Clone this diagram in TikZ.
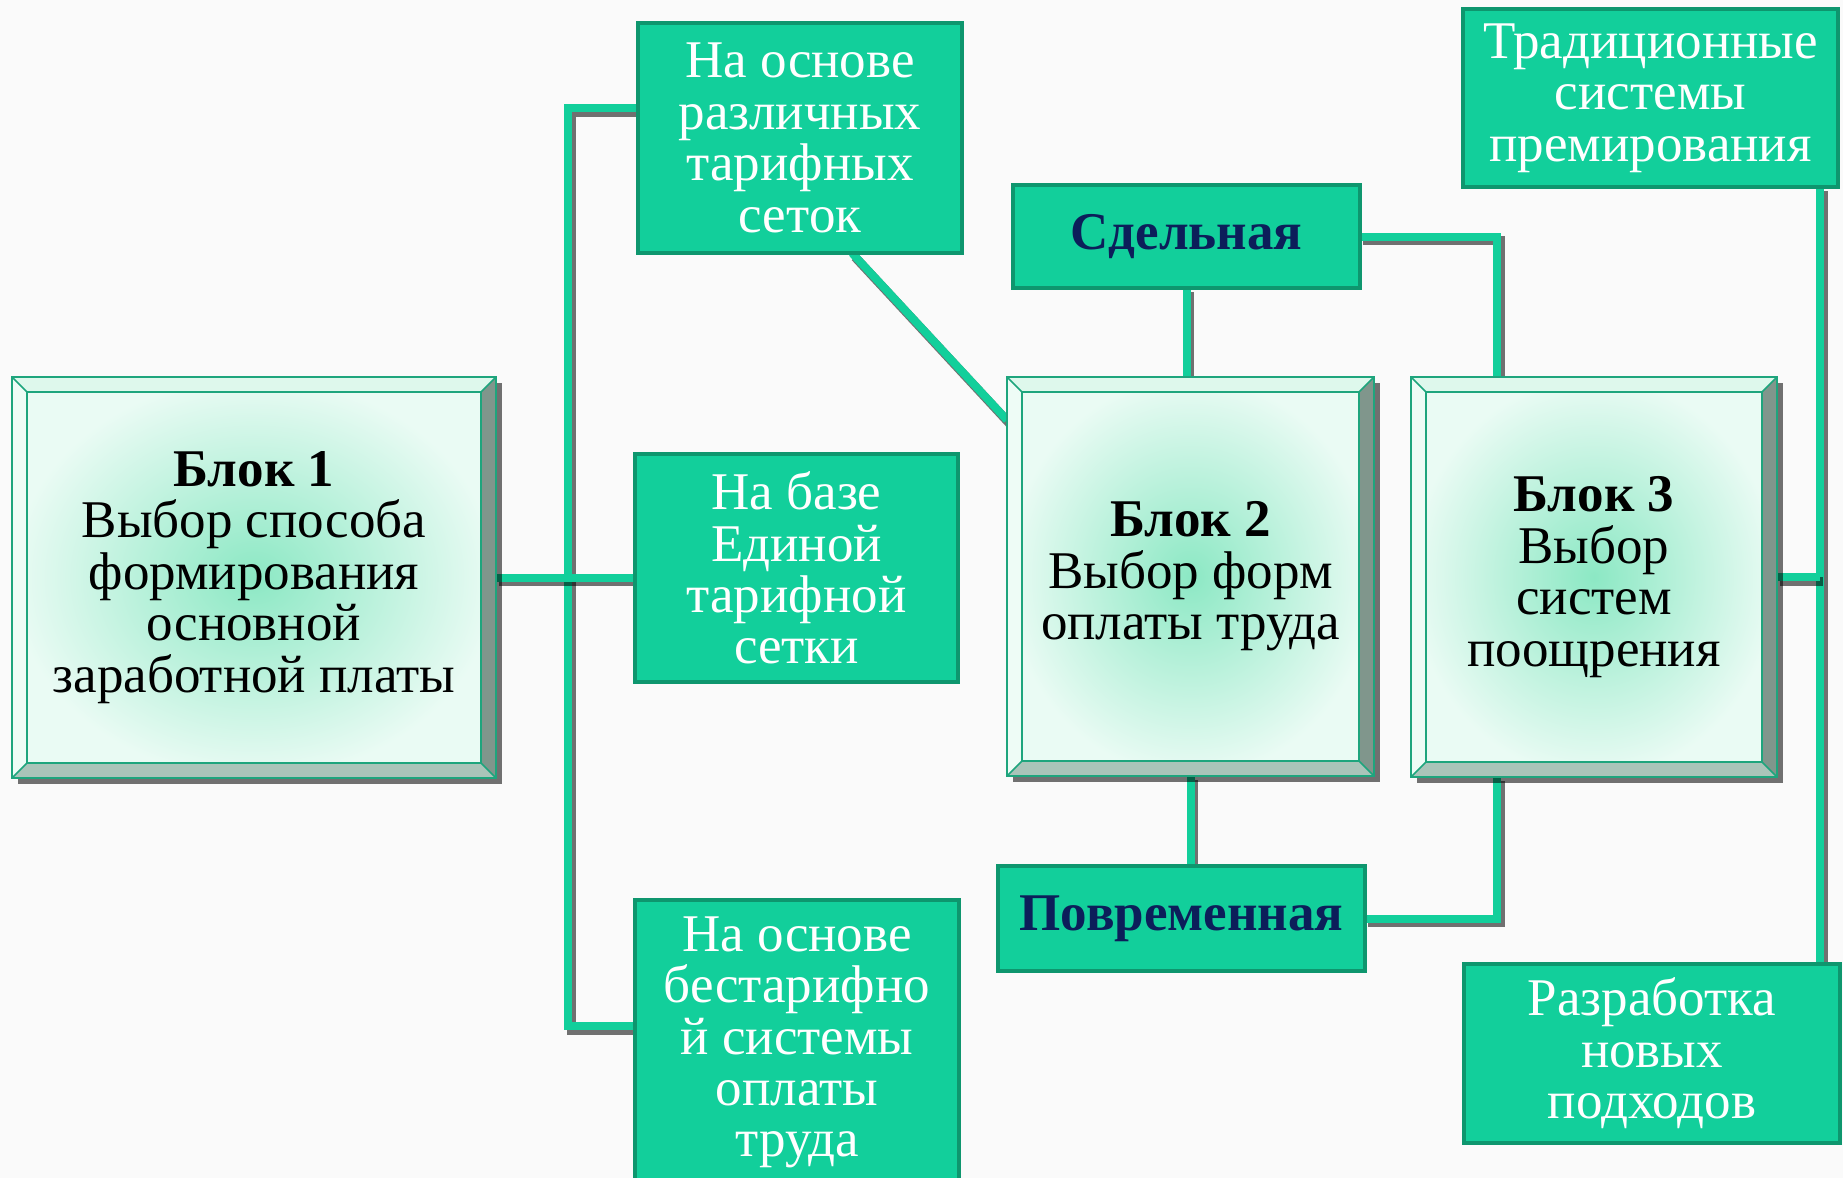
\documentclass[tikz,border=0pt]{standalone}
\usepackage{fontspec}
\setmainfont{Liberation Serif}
\usepackage{xcolor}
\usetikzlibrary{
  positioning,
  shadows,
  backgrounds
}
\definecolor{tgreen}{RGB}{18,207,155}
\definecolor{tdark}{RGB}{14,150,110}
\definecolor{navy}{RGB}{12,30,90}
\definecolor{facein}{RGB}{140,232,196}
\definecolor{faceout}{RGB}{234,251,244}
\definecolor{bevt}{RGB}{222,248,236}
\definecolor{bevl}{RGB}{238,252,246}
\definecolor{bevr}{RGB}{128,150,140}
\definecolor{bevb}{RGB}{170,196,185}
\definecolor{rimc}{RGB}{30,165,125}
\definecolor{bgc}{RGB}{250,250,250}
\pgfdeclarelayer{lines}
\pgfsetlayers{background,lines,main}
\tikzset{
  blok/.style={rectangle, outer sep=0pt, inner sep=0pt, shade, inner color=facein, outer color=faceout,
    drop shadow={shadow xshift=3pt, shadow yshift=-3pt, fill=black, opacity=0.55},
    align=center, font=\fontsize{26.5}{25.7}\selectfont},
  tbox/.style={rectangle, outer sep=0pt, fill=tgreen, draw=tdark, line width=2pt, text=white,
    align=center, font=\fontsize{26.5}{25.7}\selectfont},
  formbox/.style={tbox, text=navy, font=\bfseries\fontsize{26.5}{26}\selectfont},
  link/.style={line width=4pt, draw=tgreen,
    preaction={draw=black, draw opacity=0.55, line width=4.5pt, transform canvas={xshift=1.5pt,yshift=-2pt}}},
  rim/.style={draw=rimc, line width=0.8pt},
  bevtop/.style={fill=bevt},
  bevleft/.style={fill=bevl},
  bevright/.style={fill=bevr},
  bevbot/.style={fill=bevb}
}
\begin{document}
\begin{tikzpicture}[x=0.5pt,y=-0.5pt]
            \begin{pgfonlayer}{background}
              \fill[bgc] (0,0) rectangle (1843,1178);
            \end{pgfonlayer}
            \useasboundingbox (0,0) rectangle (1843,1178);
            \node[blok, minimum width=242pt, minimum height=200.5pt] (blk1) at (254,577.5)
              {\textbf{Блок 1}\\Выбор способа\\формирования\\основной\\заработной платы};
            \node[blok, minimum width=183.5pt, minimum height=199.5pt] (blk2) at (1190.5,576.5)
              {\textbf{Блок 2}\\Выбор форм\\оплаты труда};
            \node[blok, minimum width=183pt, minimum height=200pt] (blk3) at (1594,577)
              {\textbf{Блок 3}\\Выбор\\систем\\поощрения};
            \foreach \b in {blk1,blk2,blk3}{
              \fill[bevtop] (\b.north west) -- (\b.north east) -- ([xshift=-7.5pt,yshift=-7.5pt]\b.north east) -- ([xshift=7.5pt,yshift=-7.5pt]\b.north west) -- cycle;
              \fill[bevleft] (\b.north west) -- ([xshift=7.5pt,yshift=-7.5pt]\b.north west) -- ([xshift=7.5pt,yshift=7.5pt]\b.south west) -- (\b.south west) -- cycle;
              \fill[bevright] (\b.north east) -- (\b.south east) -- ([xshift=-7.5pt,yshift=7.5pt]\b.south east) -- ([xshift=-7.5pt,yshift=-7.5pt]\b.north east) -- cycle;
              \fill[bevbot] (\b.south west) -- ([xshift=7.5pt,yshift=7.5pt]\b.south west) -- ([xshift=-7.5pt,yshift=7.5pt]\b.south east) -- (\b.south east) -- cycle;
              \draw[rim] (\b.north west) rectangle (\b.south east);
              \draw[rim] ([xshift=7.5pt,yshift=-7.5pt]\b.north west) rectangle ([xshift=-7.5pt,yshift=7.5pt]\b.south east);
              \draw[rim] (\b.north west) -- ++(7.5pt,-7.5pt) (\b.north east) -- ++(-7.5pt,-7.5pt)
                (\b.south west) -- ++(7.5pt,7.5pt) (\b.south east) -- ++(-7.5pt,7.5pt);
            }
            \node[tbox, minimum width=162pt, minimum height=115pt] (tarA) at (800,138)
              {На основе\\различных\\тарифных\\сеток};
            \node[tbox, minimum width=161.5pt, minimum height=114pt] (tarB) at (796.5,568)
              {На базе\\Единой\\тарифной\\сетки};
            \node[tbox, minimum width=162pt, minimum height=142.5pt] (tarC) at (797,1042.5)
              {На основе\\бестарифно\\й системы\\оплаты\\труда};
            \node[formbox, minimum width=173.5pt, minimum height=51.5pt] (sdel) at (1186.5,236.5) {Сдельная};
            \node[formbox, minimum width=183.5pt, minimum height=52.5pt] (povr) at (1181.5,918.5) {Повременная};
            \node[tbox, minimum width=187.5pt, minimum height=89pt] (trad) at (1650.5,98)
              {Традиционные\\системы\\премирования};
            \node[tbox, minimum width=188pt, minimum height=89.5pt] (razr) at (1652,1053.5)
              {Разработка\\новых\\подходов};
            \coordinate (busA) at (568,108);
            \coordinate (busC) at (568,1026);
            \coordinate (busR) at (1820,577);
            \begin{pgfonlayer}{lines}
              \draw[link] (tarA.west |- busA) -- (busA) -- (busC) -- (tarC.west |- busC);
              \draw[link] (blk1.east) -- (blk1.east -| tarB.west);
              \draw[link] ([xshift=26pt]tarA.south) -- ([yshift=-21.5pt]blk2.north west);
              \draw[link] (sdel.south) -- (sdel.south |- blk2.north);
              \draw[link] (sdel.east) -| ([xshift=-48.5pt]blk3.north);
              \draw[link] (blk2.south) -- (blk2.south |- povr.north);
              \draw[link] (povr.east) -| ([xshift=-48.5pt]blk3.south);
              \draw[link] (trad.south -| busR) -- (razr.north -| busR);
              \draw[link] (blk3.east) -- (busR);
            \end{pgfonlayer}
        \end{tikzpicture}
\end{document}
